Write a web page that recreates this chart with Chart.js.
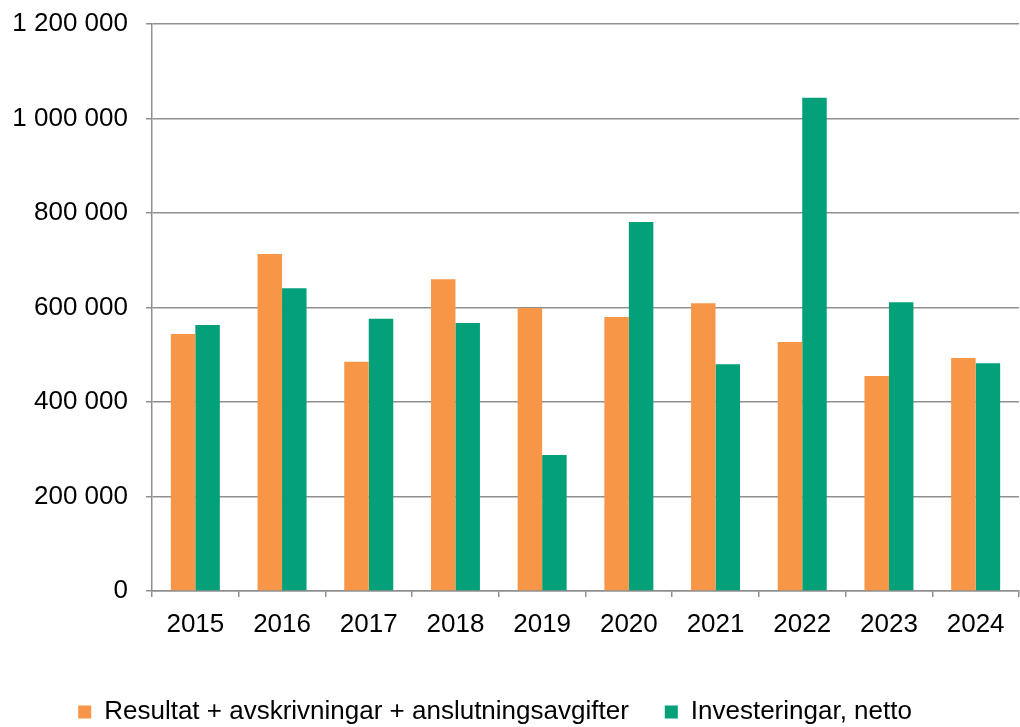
<!DOCTYPE html>
<html>
<head>
<meta charset="utf-8">
<script src="https://cdn.jsdelivr.net/npm/chart.js@4"></script>
<style>
  html, body { margin: 0; padding: 0; background: #fff; overflow: hidden; }
  #wrap { width: 1020px; height: 735px; }
</style>
</head>
<body>
<div id="wrap"><canvas id="my-chart"></canvas></div>
<script>
// Årtal och värden
const years = ['2015', '2016', '2017', '2018', '2019', '2020', '2021', '2022', '2023', '2024'];
const resultat = [544000, 713000, 485000, 660000, 599000, 580000, 609000, 527000, 455000, 493000];
const investeringar = [563000, 641000, 576000, 567000, 288000, 781000, 480000, 1044000, 611000, 482000];
const seriesNames = ['Resultat + avskrivningar + anslutningsavgifter', 'Investeringar, netto'];

const fmt = v => String(v).replace(/\B(?=(\d{3})+(?!\d))/g, ' ');
const gridGray = '#8f8f8f';

Chart.defaults.font.family = '"Liberation Sans", Arial, sans-serif';
Chart.defaults.color = '#000';

const ctx = document.getElementById('my-chart').getContext('2d');
new Chart(ctx, {
    type: 'bar',
    data: {
        labels: years,
        datasets: [
            {
                label: seriesNames[0],
                data: resultat,
                backgroundColor: '#F79646'
            },
            {
                // mellanslag på slutet flyttar förklaringen lite åt vänster
                label: seriesNames[1] + '    ',
                data: investeringar,
                backgroundColor: '#03A07A'
            }
        ]
    },
    options: {
        responsive: true,
        maintainAspectRatio: false,
        animation: false,
        layout: { padding: { top: 24, right: 1, bottom: 0, left: 0 } },
        datasets: {
            bar: { categoryPercentage: 0.565, barPercentage: 1 }
        },
        plugins: {
            legend: {
                position: 'bottom',
                labels: {
                    font: { size: 26 },
                    boxWidth: 13,
                    boxHeight: 13,
                    padding: 36
                }
            },
            tooltip: { enabled: false }
        },
        scales: {
            x: {
                grid: {
                    drawOnChartArea: false,
                    drawTicks: true,
                    tickLength: 6,
                    color: gridGray,
                    lineWidth: 1.5
                },
                border: { color: gridGray, width: 1.5 },
                ticks: { font: { size: 26 }, padding: 12 },
                afterFit: scale => { scale.height = 72; }
            },
            y: {
                min: 0,
                max: 1200000,
                ticks: {
                    stepSize: 200000,
                    font: { size: 26 },
                    padding: 18,
                    callback: v => fmt(v)
                },
                grid: {
                    color: gridGray,
                    lineWidth: 1.5,
                    tickLength: 6
                },
                border: { color: gridGray, width: 1.5 },
                afterFit: scale => {
                    scale.width = 152;
                    scale.paddingTop = 0;
                    scale.paddingBottom = 0;
                }
            }
        }
    }
});
</script>
</body>
</html>
